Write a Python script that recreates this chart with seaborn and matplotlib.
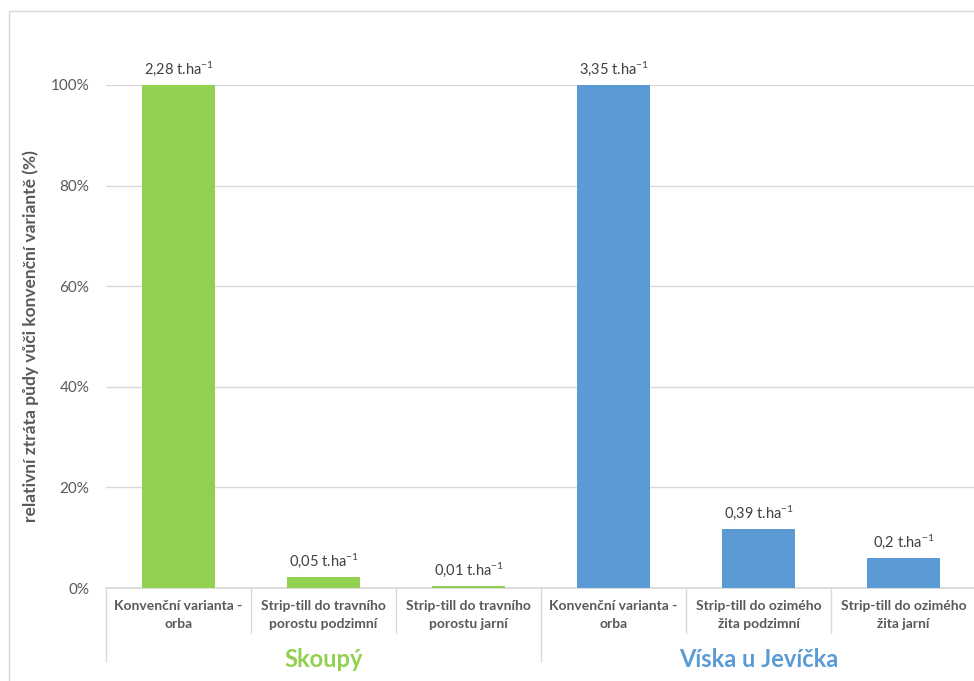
import pandas as pd
import seaborn as sns
import matplotlib.pyplot as plt
from matplotlib.patches import Rectangle
from matplotlib.ticker import PercentFormatter

sns.set_theme(style="white")
plt.rcParams['font.family'] = ['Lato', 'DejaVu Sans']
plt.rcParams['mathtext.default'] = 'regular'

# data
lokality = ["Skoupý", "Skoupý", "Skoupý", "Víska u Jevíčka", "Víska u Jevíčka", "Víska u Jevíčka"]
varianty = [
    "Konvenční varianta -\norba",
    "Strip-till do travního\nporostu podzimní",
    "Strip-till do travního\nporostu jarní",
    "Konvenční varianta -\norba",
    "Strip-till do ozimého\nžita podzimní",
    "Strip-till do ozimého\nžita jarní",
]
ztrata_t_ha = [2.28, 0.05, 0.01, 3.35, 0.39, 0.2]
popisky = ["2,28", "0,05", "0,01", "3,35", "0,39", "0,2"]

# relative loss vs. conventional variant of the same site
konvencni = {"Skoupý": 2.28, "Víska u Jevíčka": 3.35}
relativni = [v / konvencni[l] for v, l in zip(ztrata_t_ha, lokality)]

df = pd.DataFrame({
    "pozice": [f"{i}" for i in range(len(varianty))],
    "lokalita": lokality,
    "relativni": relativni,
})

barvy = {"Skoupý": "#92D050", "Víska u Jevíčka": "#5B9BD5"}
seda = "#595959"
mrizka = "#D9D9D9"

fig = plt.figure(figsize=(9.74, 6.81), dpi=100)
ax = fig.add_axes([106 / 974, 93 / 681, 870 / 974, 503 / 681])

sns.barplot(data=df, x="pozice", y="relativni", hue="lokalita", palette=barvy,
            dodge=False, width=0.51, legend=False, ax=ax, saturation=1, linewidth=0)
for b in ax.patches:
    b.set_zorder(4)

ax.set_ylim(0, 1)
ax.set_xlim(-0.5, 5.5)
ax.yaxis.set_major_formatter(PercentFormatter(1.0, decimals=0))
ax.set_yticks([0, 0.2, 0.4, 0.6, 0.8, 1.0])
ax.grid(axis="y", color=mrizka, lw=1)
ax.set_axisbelow(True)
for s in ["left", "right", "top"]:
    ax.spines[s].set_visible(False)
ax.spines["bottom"].set_color(mrizka)
ax.spines["bottom"].set_zorder(1)

ax.tick_params(axis="y", length=0, pad=12, labelsize=11, labelcolor=seda)
ax.set_xticks(range(len(varianty)))
ax.set_xticklabels(varianty, fontsize=10, fontweight="bold", color=seda, linespacing=1.5)
ax.tick_params(axis="x", length=0, pad=9)
ax.set_xlabel("")
ax.set_ylabel("relativní ztráta půdy vůči konvenční variantě (%)", fontsize=12.5,
              fontweight="bold", color=seda, labelpad=8)

# value labels
for i, (r, p) in enumerate(zip(relativni, popisky)):
    ax.annotate(p + " t.ha$^{-1}$", (i, r), xytext=(0, 5), textcoords="offset points",
                ha="center", va="bottom", fontsize=10.5, color="#404040")

# category separators
tr = ax.get_xaxis_transform()
for x in [0.5, 1.5, 3.5, 4.5]:
    ax.plot([x, x], [0, -0.09], transform=tr, color=mrizka, lw=1, clip_on=False)
for x in [-0.5, 2.5, 5.5]:
    ax.plot([x, x], [0, -0.147], transform=tr, color=mrizka, lw=1, clip_on=False)

# group labels
for x, lok in [(1, "Skoupý"), (4, "Víska u Jevíčka")]:
    ax.text(x, -0.143, lok, transform=tr, ha="center", va="center", fontsize=17,
            fontweight="bold", color=barvy[lok])

fig.patches.append(Rectangle((9 / 974, -0.02), 1.1, 0.9838 + 0.02, transform=fig.transFigure,
                             fill=False, edgecolor=mrizka, lw=1))

fig.savefig("out.png", dpi=100)
